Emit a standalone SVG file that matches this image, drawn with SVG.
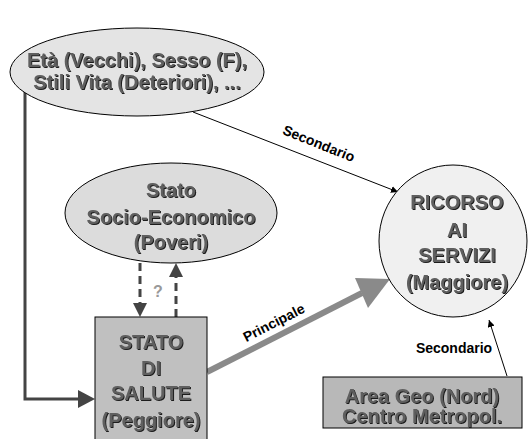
<svg xmlns="http://www.w3.org/2000/svg" width="532" height="439" viewBox="0 0 532 439">
<defs>
<filter id="sh" x="-10%" y="-10%" width="120%" height="130%">
<feOffset in="SourceAlpha" dx="1" dy="1" result="o"/>
<feFlood flood-color="#1a1a1a"/>
<feComposite in2="o" operator="in" result="s"/>
<feMerge><feMergeNode in="s"/><feMergeNode in="SourceGraphic"/></feMerge>
</filter>
<marker id="ah" viewBox="0 0 10 10" refX="10" refY="5" markerWidth="7" markerHeight="7" markerUnits="userSpaceOnUse" orient="auto"><path d="M0,0L10,5L0,10z" fill="#000"/></marker>
</defs>
<style>
.t{font-family:"Liberation Sans",Arial,sans-serif;font-weight:bold;font-size:20px;fill:#5e5e5e;text-anchor:middle;filter:url(#sh)}
.l{font-family:"Liberation Sans",Arial,sans-serif;font-weight:bold;font-size:14px;fill:#000;text-anchor:middle}
.n{stroke:#000;stroke-width:1}
</style>
<rect width="532" height="439" fill="#fff"/>
<g id="connectors">
<path d="M25,88V399H78" fill="none" stroke="#444" stroke-width="3"/>
<path d="M78,390L95,399L78,408z" fill="#444"/>
<path d="M193,112L398,192" stroke="#000" stroke-width="1" marker-end="url(#ah)"/>
<text class="l" transform="translate(317,148) rotate(22)">Secondario</text>
<path d="M207,372L362,293" stroke="#8a8a8a" stroke-width="6"/>
<path d="M390,279L355,278L368,308z" fill="#8a8a8a"/>
<text class="l" transform="translate(276,327) rotate(-27)">Principale</text>
<path d="M507,376L489,320" stroke="#000" stroke-width="1" marker-end="url(#ah)" transform="translate(0,0)"/>
<text class="l" x="454" y="353">Secondario</text>
<path d="M140,263V303" stroke="#444" stroke-width="3" stroke-dasharray="8,5"/>
<path d="M133,303L147,303L140,317z" fill="#444"/>
<path d="M176,317V277" stroke="#444" stroke-width="3" stroke-dasharray="8,5"/>
<path d="M169,277L183,277L176,263z" fill="#444"/>
<text x="158" y="297" font-family="Liberation Sans,Arial,sans-serif" font-weight="bold" font-size="16" fill="#999" text-anchor="middle">?</text>
</g>
<g id="fattori">
<ellipse class="n" cx="137" cy="72" rx="127" ry="44" fill="#e4e4e4"/>
<text class="t" x="137" y="67">Età (Vecchi), Sesso (F),</text>
<text class="t" x="137" y="89">Stili Vita (Deteriori), ...</text>
</g>
<g id="socio">
<ellipse class="n" cx="171" cy="213" rx="106" ry="50" fill="#dcdcdc"/>
<text class="t" x="171" y="197">Stato</text>
<text class="t" x="171" y="224">Socio-Economico</text>
<text class="t" x="171" y="249">(Poveri)</text>
</g>
<g id="salute">
<rect class="n" x="95" y="317" width="112" height="125" fill="#c0c0c0"/>
<text class="t" x="151" y="349">STATO</text>
<text class="t" x="151" y="375">DI</text>
<text class="t" x="151" y="400">SALUTE</text>
<text class="t" x="151" y="427">(Peggiore)</text>
</g>
<g id="ricorso">
<ellipse class="n" cx="453" cy="241" rx="74" ry="76" fill="#f0f0f0"/>
<text class="t" x="457" y="209">RICORSO</text>
<text class="t" x="457" y="237">AI</text>
<text class="t" x="457" y="262">SERVIZI</text>
<text class="t" x="457" y="289">(Maggiore)</text>
</g>
<g id="area">
<rect class="n" x="323" y="377" width="199" height="51" fill="#b8b8b8"/>
<text class="t" x="422" y="403">Area Geo (Nord)</text>
<text class="t" x="422" y="423">Centro Metropol.</text>
</g>
</svg>
